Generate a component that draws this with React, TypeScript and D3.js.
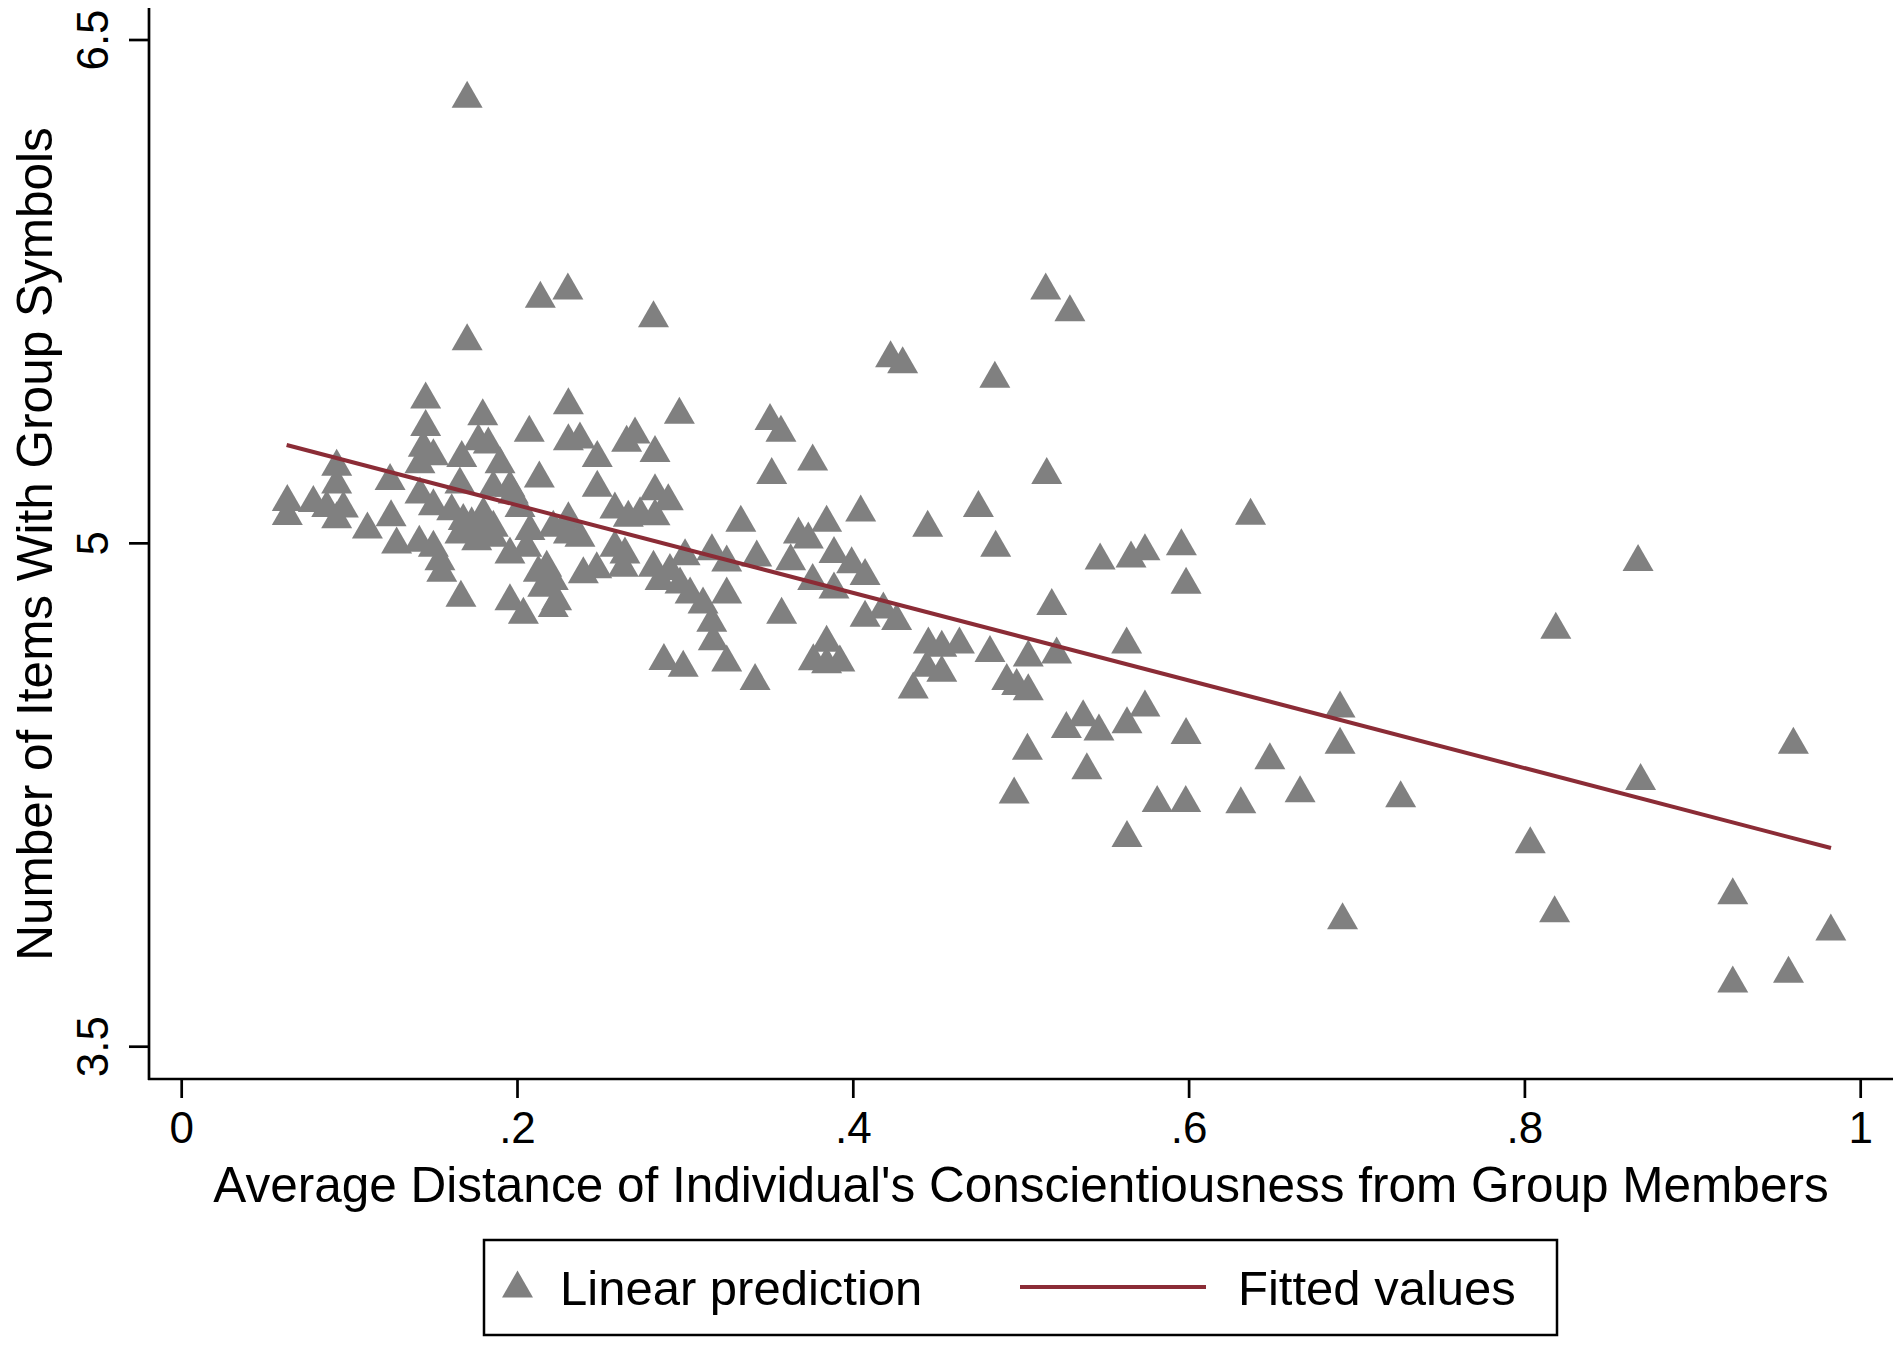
import * as React from 'react'
import * as d3 from 'd3'

// Scatter points: [distance, items]
const pointX = [
  0.170, 0.2136, 0.230, 0.281, 0.170, 0.5146, 0.529, 0.4222, 0.4294, 0.4843,
  0.1453, 0.1453, 0.1439, 0.1499, 0.1419, 0.1793, 0.1767, 0.1668, 0.1896, 0.1657,
  0.1856, 0.1955, 0.2070, 0.2303, 0.2303, 0.2372, 0.2475, 0.2964, 0.2650, 0.2700,
  0.2819, 0.2130, 0.2475, 0.2819, 0.2898, 0.0923, 0.0923, 0.1241, 0.0629, 0.0629,
  0.0784, 0.0864, 0.0963, 0.0923, 0.1106, 0.1247, 0.1419, 0.1499, 0.1608, 0.1280,
  0.1415, 0.1499, 0.1538, 0.1549, 0.1663, 0.1677, 0.1767, 0.1856, 0.1657, 0.1757,
  0.1856, 0.1955, 0.2055, 0.2124, 0.2174, 0.2213, 0.2150, 0.2233, 0.1955, 0.2035,
  0.2213, 0.2303, 0.2303, 0.2372, 0.2392, 0.2472, 0.2580, 0.2660, 0.2730, 0.2819,
  0.2580, 0.2640, 0.2630, 0.2810, 0.2908, 0.2998, 0.2849, 0.2968, 0.3028, 0.2872,
  0.2987, 0.1826, 0.1975, 0.2015, 0.1797, 0.1727, 0.2074, 0.2213,
  0.3504, 0.3569, 0.3514, 0.3758, 0.5152, 0.3330, 0.3158, 0.3246, 0.3425, 0.3627,
  0.3673, 0.3732, 0.3841, 0.4044, 0.3885, 0.3990, 0.4070, 0.3758, 0.3885, 0.4443,
  0.4745, 0.4848, 0.5470, 0.5654, 0.5737, 0.3246, 0.3105, 0.3157, 0.3166, 0.3246,
  0.3573, 0.3415, 0.4070, 0.4179, 0.4258, 0.3841, 0.3762, 0.3841, 0.3920, 0.4447,
  0.4527, 0.4632, 0.4437, 0.4527, 0.4357, 0.4814, 0.5042, 0.5211, 0.4914, 0.4973,
  0.5042, 0.5182, 0.5628, 0.5369, 0.5737,
  0.5954, 0.5982, 0.6366, 0.8674, 0.8184, 0.6899, 0.6899, 0.5982, 0.6481, 0.6661,
  0.6308, 0.7260, 0.8689, 0.9599, 0.8032, 0.8177, 0.6914, 0.9238, 0.9238, 0.9570,
  0.9822, 0.5630, 0.5810, 0.5980, 0.5391, 0.5269, 0.5463, 0.5630, 0.5037, 0.4958,
]

const pointY = [
  6.338, 5.742, 5.767, 5.684, 5.616, 5.767, 5.702, 5.565, 5.547, 5.504,
  5.442, 5.360, 5.298, 5.273, 5.249, 5.392, 5.318, 5.268, 5.249, 5.189,
  5.179, 5.179, 5.343, 5.425, 5.318, 5.323, 5.268, 5.397, 5.313, 5.338,
  5.283, 5.207, 5.179, 5.169, 5.139, 5.242, 5.189, 5.199, 5.137, 5.095,
  5.134, 5.119, 5.117, 5.085, 5.055, 5.091, 5.159, 5.124, 5.109, 5.010,
  5.015, 5.000, 4.960, 4.926, 4.851, 5.080, 5.060, 5.060, 5.040, 5.020,
  5.030, 4.980, 5.000, 4.926, 4.941, 4.901, 4.881, 4.841, 4.841, 4.801,
  4.821, 5.085, 5.040, 5.030, 4.921, 4.936, 5.114, 5.090, 5.100, 5.094,
  5.000, 4.980, 4.941, 4.941, 4.931, 4.975, 4.901, 4.891, 4.861, 4.663,
  4.643, 5.308, 5.159, 5.119, 5.100, 5.070, 5.050, 5.060,
  5.378, 5.343, 5.217, 5.257, 5.217, 5.075, 4.990, 4.956, 4.971, 4.960,
  5.040, 5.025, 5.075, 5.105, 4.982, 4.951, 4.916, 4.901, 4.876, 5.060,
  5.119, 5.000, 4.962, 4.968, 4.990, 4.861, 4.831, 4.777, 4.722, 4.658,
  4.801, 4.603, 4.792, 4.816, 4.782, 4.717, 4.662, 4.653, 4.658, 4.712,
  4.702, 4.712, 4.643, 4.628, 4.578, 4.687, 4.673, 4.682, 4.603, 4.588,
  4.573, 4.827, 4.712, 4.495, 4.524,
  5.005, 4.890, 5.096, 4.958, 4.756, 4.521, 4.413, 4.442, 4.367, 4.269,
  4.236, 4.254, 4.305, 4.413, 4.117, 3.911, 3.890, 3.965, 3.702, 3.731,
  3.857, 4.135, 4.240, 4.240, 4.337, 4.460, 4.453, 4.474, 4.395, 4.265,
]

// Fitted line end points
const fittedX = [0.0625, 0.9823]
const fittedY = [5.293, 4.092]

const xTicks = [0, 0.2, 0.4, 0.6, 0.8, 1]
const xTickLabels = ['0', '.2', '.4', '.6', '.8', '1']
const yTicks = [3.5, 5, 6.5]
const yTickLabels = ['3.5', '5', '6.5']

const xTitle = "Average Distance of Individual's Conscientiousness from Group Members"
const yTitle = 'Number of Items With Group Symbols'
const legendLabels = ['Linear prediction', 'Fitted values']

const WIDTH = 1900
const HEIGHT = 1348
const FONT = '"Liberation Sans", Arial, Helvetica, sans-serif'
const MARKER = '#808080'
const FIT = '#8b2c36'

// triangle centred on its bounding box
const tri = 'M0,-13.5L15.5,13.5L-15.5,13.5Z'

export default function App() {
  const x = d3.scaleLinear().domain([0, 1]).range([181.7, 1860.7])
  const y = d3.scaleLinear().domain([3.5, 6.5]).range([1046.7, 40])

  const axisLeft = 149
  const axisBottom = 1079

  const line = d3.line<number>()
    .x((_, i) => x(fittedX[i]))
    .y((_, i) => y(fittedY[i]))

  return (
    <svg
      width={WIDTH}
      height={HEIGHT}
      style={{ position: 'absolute', left: 0, top: 0, background: '#fff' }}
      fontFamily={FONT}
    >
      <rect width={WIDTH} height={HEIGHT} fill="#fff" />

      {/* markers */}
      <g fill={MARKER}>
        {pointX.map((px, i) => (
          <path key={i} d={tri} transform={`translate(${x(px)},${y(pointY[i])})`} />
        ))}
      </g>

      {/* fitted line */}
      <path d={line(fittedX) || ''} fill="none" stroke={FIT} strokeWidth={4} />

      {/* axes */}
      <line x1={axisLeft} x2={axisLeft} y1={8} y2={axisBottom + 1} stroke="#000" strokeWidth={2.7} />
      <line x1={axisLeft - 1} x2={1893} y1={axisBottom} y2={axisBottom} stroke="#000" strokeWidth={2.7} />

      {yTicks.map((t, i) => (
        <g key={t}>
          <line x1={axisLeft - 20} x2={axisLeft} y1={y(t)} y2={y(t)} stroke="#000" strokeWidth={2.7} />
          <text
            transform={`translate(108,${y(t)}) rotate(-90)`}
            textAnchor="middle"
            fontSize={44}
            fill="#000"
          >
            {yTickLabels[i]}
          </text>
        </g>
      ))}

      {xTicks.map((t, i) => (
        <g key={t}>
          <line x1={x(t)} x2={x(t)} y1={axisBottom} y2={axisBottom + 19} stroke="#000" strokeWidth={2.7} />
          <text x={x(t)} y={1143} textAnchor="middle" fontSize={44} fill="#000">
            {xTickLabels[i]}
          </text>
        </g>
      ))}

      {/* titles */}
      <text x={1021} y={1202} textAnchor="middle" fontSize={49.5} fill="#000">{xTitle}</text>
      <text transform="translate(52,544) rotate(-90)" textAnchor="middle" fontSize={49.5} fill="#000">
        {yTitle}
      </text>

      {/* legend */}
      <rect x={484} y={1240} width={1073} height={95} fill="#fff" stroke="#000" strokeWidth={2.5} />
      <path d={tri} transform="translate(517.5,1284)" fill={MARKER} />
      <text x={560} y={1305} fontSize={49} fill="#000">{legendLabels[0]}</text>
      <line x1={1020} x2={1206} y1={1287} y2={1287} stroke={FIT} strokeWidth={4} />
      <text x={1238} y={1305} fontSize={49} fill="#000">{legendLabels[1]}</text>
    </svg>
  )
}
